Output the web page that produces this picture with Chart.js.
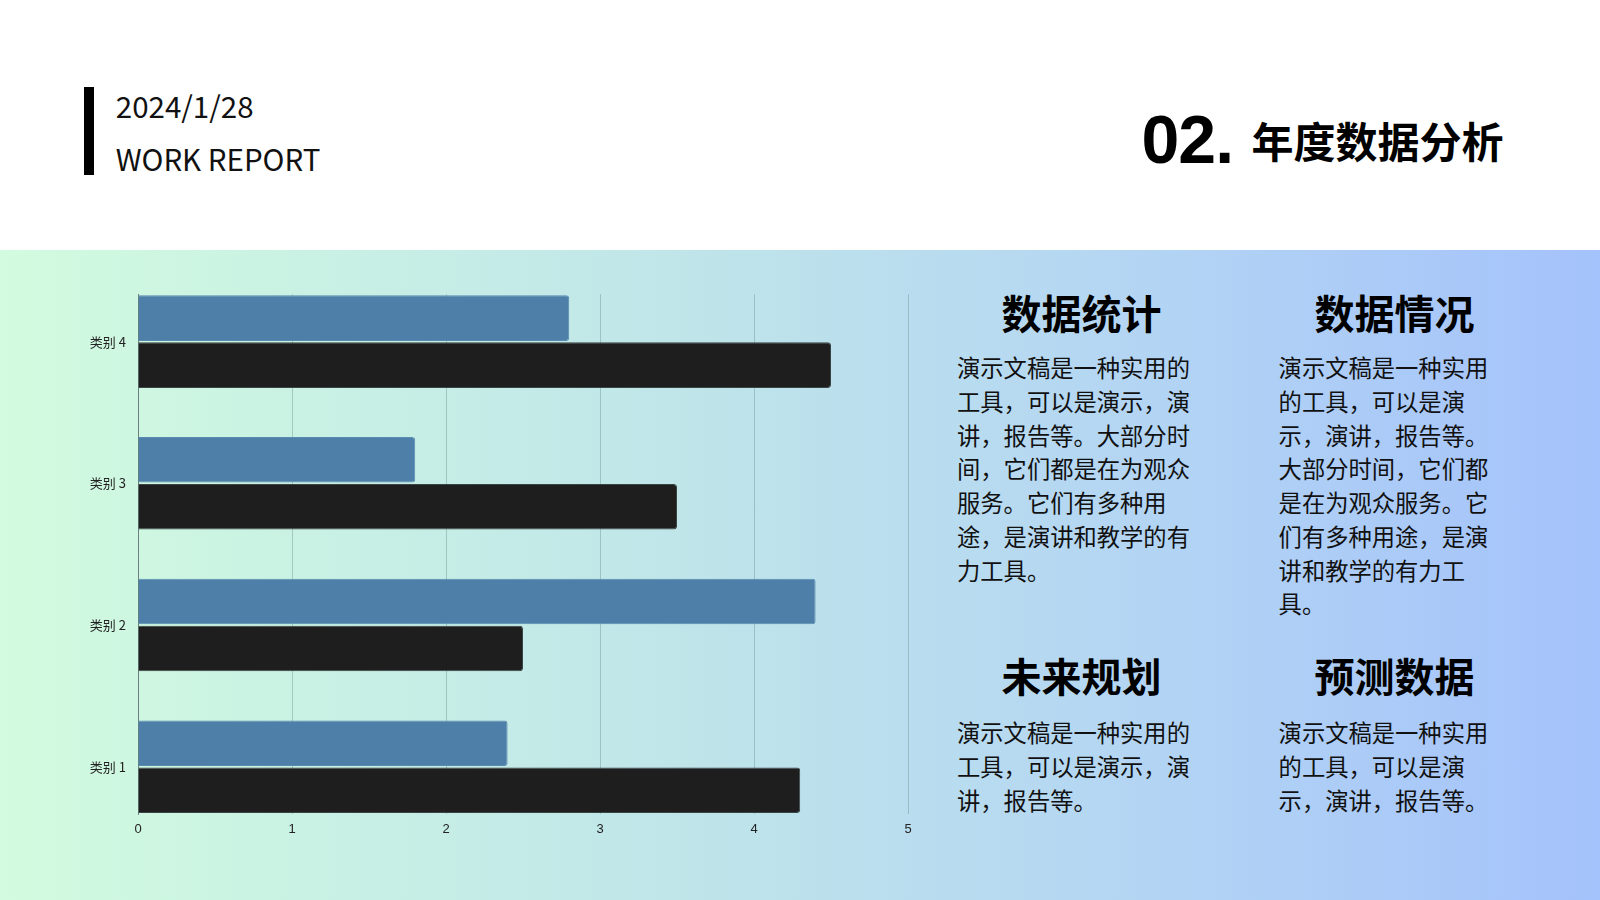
<!DOCTYPE html>
<html>
<head>
<meta charset="utf-8">
<script src="https://cdn.jsdelivr.net/npm/chart.js@4.4.1/dist/chart.umd.min.js"></script>
<style>
  html, body { margin: 0; padding: 0; }
  body { width: 1600px; height: 900px; position: relative; overflow: hidden; background: #ffffff; font-family: "Noto Sans CJK SC", "Noto Sans", sans-serif; color: #111; }
  .band { position: absolute; left: 0; top: 250px; width: 1600px; height: 650px; background: linear-gradient(90deg, #D2FBDF 0%, #BEE4EA 45%, #B4D6F3 70%, #A4C2FB 100%); }
  .bar { position: absolute; left: 84px; top: 87px; width: 10px; height: 88px; background: #000; }
  .date { position: absolute; left: 115.8px; top: 82.5px; font-size: 29.5px; line-height: 44px; font-family: "Noto Sans CJK SC", sans-serif; color: #111; }
  .wr { position: absolute; left: 115.8px; top: 135.5px; font-size: 29.5px; line-height: 44px; font-family: "Noto Sans CJK SC", sans-serif; color: #111; }
  .num { position: absolute; left: 1141.5px; top: 104px; font-family: "Liberation Sans", Arial, sans-serif; font-weight: bold; font-size: 68px; line-height: 70px; color: #000; letter-spacing: -1px; }
  .ttl { position: absolute; left: 1251.5px; top: 117px; font-size: 42px; line-height: 46px; font-weight: bold; color: #000; }
  .h { position: absolute; font-size: 40px; line-height: 46px; font-weight: bold; color: #000; white-space: nowrap; }
  .p { position: absolute; font-size: 23.3px; line-height: 33.7px; color: #111; }
  #wrap { position: absolute; left: 0; top: 250px; width: 940px; height: 650px; }
</style>
</head>
<body>
<div class="band"></div>
<div class="bar"></div>
<div class="date">2024/1/28</div>
<div class="wr">WORK REPORT</div>
<div class="num">02.</div>
<div class="ttl">年度数据分析</div>

<div class="h" style="left:1001.5px; top:289.2px;">数据统计</div>
<div class="p" style="left:957px; top:351.3px; width:238px;">演示文稿是一种实用的工具，可以是演示，演讲，报告等。大部分时间，它们都是在为观众服务。它们有多种用途，是演讲和教学的有力工具。</div>

<div class="h" style="left:1314.5px; top:289.2px;">数据情况</div>
<div class="p" style="left:1278.6px; top:351.3px; width:216px;">演示文稿是一种实用的工具，可以是演示，演讲，报告等。大部分时间，它们都是在为观众服务。它们有多种用途，是演讲和教学的有力工具。</div>

<div class="h" style="left:1001.5px; top:652px;">未来规划</div>
<div class="p" style="left:957px; top:716.3px; width:238px;">演示文稿是一种实用的工具，可以是演示，演讲，报告等。</div>

<div class="h" style="left:1314.5px; top:652px;">预测数据</div>
<div class="p" style="left:1278.6px; top:716.3px; width:216px;">演示文稿是一种实用的工具，可以是演示，演讲，报告等。</div>

<div id="wrap"><canvas id="c"></canvas></div>

<script>
const categories = ['类别 1', '类别 2', '类别 3', '类别 4'];
const seriesBlue = [2.4, 4.4, 1.8, 2.8];
const seriesBlack = [4.3, 2.5, 3.5, 4.5];
const xTicks = [0, 1, 2, 3, 4, 5];

const toPoints = (vals) => vals.map((v, i) => ({ x: v, y: i }));

const ctx = document.getElementById('c');
new Chart(ctx, {
  type: 'bar',
  data: {
    datasets: [
      {
        label: '系列 2',
        data: toPoints(seriesBlue),
        backgroundColor: '#4E7FA8',
        borderColor: '#5A8AB0',
        borderWidth: 1,
        borderRadius: 3,
        categoryPercentage: 0.663,
        barPercentage: 0.97
      },
      {
        label: '系列 1',
        data: toPoints(seriesBlack),
        backgroundColor: '#1E1E1E',
        borderColor: '#3A4444',
        borderWidth: 1,
        borderRadius: 3,
        categoryPercentage: 0.663,
        barPercentage: 0.97
      }
    ]
  },
  options: {
    indexAxis: 'y',
    responsive: true,
    maintainAspectRatio: false,
    animation: false,
    layout: { padding: { left: 0, top: 44.3, right: 32, bottom: 56 } },
    plugins: { legend: { display: false }, tooltip: { enabled: false } },
    scales: {
      x: {
        type: 'linear',
        min: xTicks[0],
        max: xTicks[xTicks.length - 1],
        afterBuildTicks: (s) => { s.ticks = xTicks.map(v => ({ value: v })); },
        afterFit: (s) => { s.height = 30; },
        grid: { color: 'rgba(110,150,150,0.45)', lineWidth: 1, drawTicks: false },
        border: { display: false },
        ticks: { padding: 8, color: '#222', font: { family: '"Liberation Sans", Arial, sans-serif', size: 13 } }
      },
      y: {
        type: 'linear',
        offset: false,
        min: -0.334,
        max: 3.334,
        afterBuildTicks: (s) => { s.ticks = categories.map((c, i) => ({ value: i })); },
        afterFit: (s) => { s.width = 138; },
        grid: { display: false, drawTicks: false, offset: false },
        border: { display: true, color: 'rgba(90,110,110,0.8)', width: 1 },
        ticks: {
          padding: 12,
          color: '#222',
          font: { family: '"Noto Sans CJK SC", sans-serif', size: 13 },
          callback: (v) => categories[v]
        }
      }
    }
  }
});
</script>
</body>
</html>
